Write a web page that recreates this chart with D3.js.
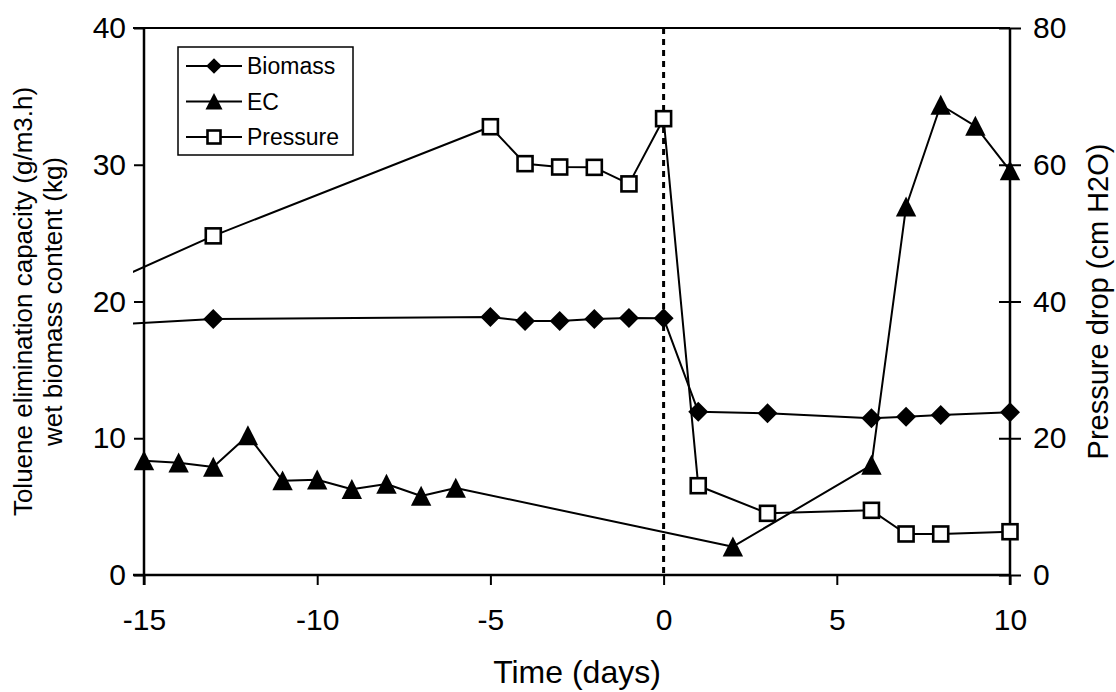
<!DOCTYPE html>
<html>
<head>
<meta charset="utf-8">
<script src="https://cdn.jsdelivr.net/npm/d3@7"></script>
<style>
  body { margin: 0; background: #fff; }
  svg { display: block; }
  text { font-family: "Liberation Sans", Arial, sans-serif; fill: #000; }
</style>
</head>
<body>
<svg id="chart" width="1116" height="692"></svg>
<script>
// Biomass content (kg), elimination capacity (g/m3.h) and pressure drop (cm H2O) over time (days)
const biomassDays = [-20, -13, -5, -4, -3, -2, -1, 0, 1, 3, 6, 7, 8, 10];
const biomassKg   = [17.7, 18.72, 18.87, 18.57, 18.57, 18.72, 18.8, 18.77, 11.94, 11.82, 11.46, 11.58, 11.7, 11.9];

const ecDays   = [-15, -14, -13, -12, -11, -10, -9, -8, -7, -6, 2, 6, 7, 8, 9, 10];
const ecValues = [8.36, 8.21, 7.9, 10.2, 6.9, 6.97, 6.27, 6.65, 5.78, 6.36, 2.07, 8.04, 26.93, 34.37, 32.83, 29.57];

const pressureDays = [-20, -13, -5, -4, -3, -2, -1, 0, 1, 3, 6, 7, 8, 10];
const pressureCm   = [33.7, 49.6, 65.56, 60.16, 59.67, 59.62, 57.2, 66.74, 13.06, 9.02, 9.46, 6.0, 6.0, 6.33];

const xTicks = [-15, -10, -5, 0, 5, 10];
const leftTicks = [0, 10, 20, 30, 40];
const rightTicks = [0, 20, 40, 60, 80];
const eventDay = 0;

const legendNames = ["Biomass", "EC", "Pressure"];

const svg = d3.select("#chart");
const plotL = 144, plotR = 1010, plotT = 28, plotB = 575;
const overhang = 11;

const x = d3.scaleLinear().domain([-15, 10]).range([plotL, plotR]);
const yL = d3.scaleLinear().domain([0, 40]).range([plotB, plotT]);
const yR = d3.scaleLinear().domain([0, 80]).range([plotB, plotT]);

const TICK_FONT = 30, X_TITLE_FONT = 32, Y_TITLE_FONT = 29, LEFT_TITLE_FONT = 26, LEGEND_FONT = 23;
const plain = d => String(d);

// marker shapes, centred on their bounding box
function markerPath(kind, s) {
  if (kind === "diamond") return `M0,${-s}L${s},0L0,${s}L${-s},0Z`;
  if (kind === "triangle") return `M0,${-s}L${s},${s * 0.95}L${-s},${s * 0.95}Z`;
  return null;
}

// clip region for series lines
svg.append("defs").append("clipPath").attr("id", "plotClip")
  .append("rect")
  .attr("x", plotL - overhang).attr("y", plotT - 20)
  .attr("width", plotR - plotL + overhang).attr("height", plotB - plotT + 20);

// frame: top border and bottom axis line
svg.append("line").attr("x1", plotL - overhang).attr("x2", plotR).attr("y1", plotT).attr("y2", plotT)
  .attr("stroke", "#000").attr("stroke-width", 2.2);
svg.append("line").attr("x1", plotL - overhang).attr("x2", plotR).attr("y1", plotB).attr("y2", plotB)
  .attr("stroke", "#000").attr("stroke-width", 2.5);

// x axis
const gx = svg.append("g").attr("transform", `translate(0,${plotB})`)
  .call(d3.axisBottom(x).tickValues(xTicks).tickSize(10).tickSizeOuter(0).tickPadding(24)
    .tickFormat(plain));
gx.select(".domain").remove();
gx.selectAll(".tick line").attr("stroke", "#000").attr("stroke-width", 2);
gx.selectAll(".tick text").attr("font-size", TICK_FONT).attr("font-family", null);

// left axis
const gl = svg.append("g").attr("transform", `translate(${plotL},0)`)
  .call(d3.axisLeft(yL).tickValues(leftTicks).tickSize(10).tickSizeOuter(0).tickPadding(8)
    .tickFormat(plain));
gl.select(".domain").attr("stroke", "#000").attr("stroke-width", 2.5)
  .attr("d", `M0,${plotT}V${plotB + 10}`);
gl.selectAll(".tick line").attr("stroke", "#000").attr("stroke-width", 2);
gl.selectAll(".tick text").attr("font-size", TICK_FONT).attr("font-family", null);

// right axis with crossing ticks
const gr = svg.append("g").attr("transform", `translate(${plotR},0)`)
  .call(d3.axisRight(yR).tickValues(rightTicks).tickSize(11).tickSizeOuter(0).tickPadding(12)
    .tickFormat(plain));
gr.select(".domain").attr("stroke", "#000").attr("stroke-width", 2.5)
  .attr("d", `M0,${plotT}V${plotB + 10}`);
gr.selectAll(".tick line").attr("x1", -11).attr("stroke", "#000").attr("stroke-width", 2);
gr.selectAll(".tick text").attr("font-size", TICK_FONT).attr("font-family", null);

// vertical dashed line at day 0
svg.append("line")
  .attr("x1", x(eventDay)).attr("x2", x(eventDay)).attr("y1", plotT).attr("y2", plotB)
  .attr("stroke", "#000").attr("stroke-width", 3).attr("stroke-dasharray", "6,5");

// series
const series = [
  { name: "Biomass", days: biomassDays, vals: biomassKg, y: yL, kind: "diamond" },
  { name: "EC", days: ecDays, vals: ecValues, y: yL, kind: "triangle" },
  { name: "Pressure", days: pressureDays, vals: pressureCm, y: yR, kind: "square" }
];

const lines = svg.append("g").attr("clip-path", "url(#plotClip)");
series.forEach(s => {
  const pts = s.days.map((d, i) => [d, s.vals[i]]);
  lines.append("path")
    .datum(pts)
    .attr("fill", "none").attr("stroke", "#000").attr("stroke-width", 2)
    .attr("stroke-linejoin", "round")
    .attr("d", d3.line().x(p => x(p[0])).y(p => s.y(p[1])));
});

function drawMarker(g, kind, cx, cy, big) {
  if (kind === "square") {
    const h = big ? 7.5 : 6.5;
    g.append("rect").attr("x", cx - h).attr("y", cy - h).attr("width", 2 * h).attr("height", 2 * h)
      .attr("fill", "#fff").attr("stroke", "#000").attr("stroke-width", 2.6);
  } else {
    const sz = kind === "diamond" ? (big ? 10 : 7.8) : (big ? 10.2 : 8.5);
    g.append("path").attr("d", markerPath(kind, sz))
      .attr("transform", `translate(${cx},${cy})`).attr("fill", "#000");
  }
}

const marks = svg.append("g");
series.forEach(s => {
  s.days.forEach((d, i) => {
    if (d < -15 || d > 10) return;
    drawMarker(marks, s.kind, x(d), s.y(s.vals[i]), true);
  });
});

// legend
const lg = svg.append("g");
lg.append("rect").attr("x", 178).attr("y", 47).attr("width", 175).attr("height", 108)
  .attr("fill", "#fff").attr("stroke", "#000").attr("stroke-width", 1.5);
legendNames.forEach((name, i) => {
  const s = series.find(d => d.name === name);
  const cy = 66 + i * 35.5;
  lg.append("line").attr("x1", 186).attr("x2", 242).attr("y1", cy).attr("y2", cy)
    .attr("stroke", "#000").attr("stroke-width", 2);
  drawMarker(lg, s.kind, 214, cy, false);
  lg.append("text").attr("x", 247).attr("y", cy).attr("dy", "0.36em")
    .attr("font-size", LEGEND_FONT).text(name);
});

// axis titles
svg.append("text").attr("x", (plotL + plotR) / 2).attr("y", 683)
  .attr("text-anchor", "middle").attr("font-size", X_TITLE_FONT).text("Time (days)");

const midY = (plotT + plotB) / 2;
const lt = svg.append("text").attr("transform", `translate(32,${midY}) rotate(-90)`)
  .attr("text-anchor", "middle").attr("font-size", LEFT_TITLE_FONT);
lt.append("tspan").attr("x", 0).attr("y", 0).text("Toluene elimination capacity (g/m3.h)");
lt.append("tspan").attr("x", 0).attr("y", 30).text("wet biomass content (kg)");

svg.append("text").attr("transform", `translate(1108,${midY}) rotate(-90)`)
  .attr("text-anchor", "middle").attr("font-size", Y_TITLE_FONT).text("Pressure drop (cm H2O)");
</script>
</body>
</html>
